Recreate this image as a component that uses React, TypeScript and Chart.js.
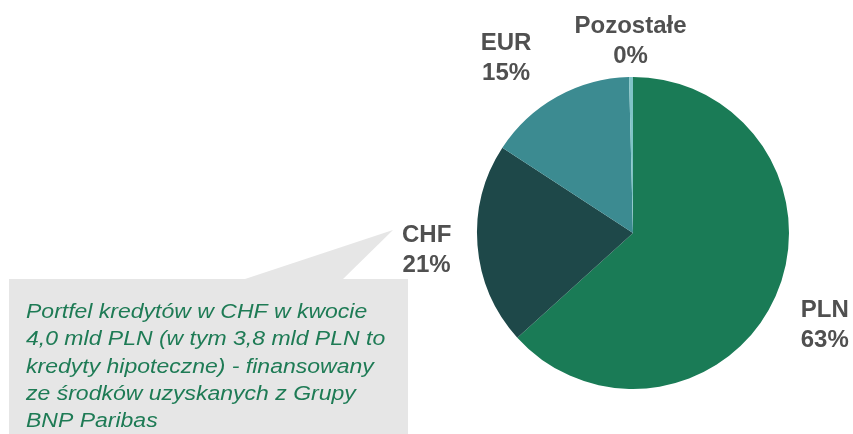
import React, { useEffect, useRef } from "react";
import { Chart, registerables } from "chart.js";

Chart.register(...registerables);

const categories = ["PLN", "CHF", "EUR", "Pozostałe"];
const shares = [63.3, 20.9, 15.4, 0.4];
const sliceColors = ["#1a7b56", "#1e4849", "#3c8b91", "#80c4c7"];
const labelDistance = [212, 207, 205, 194];
const labelNudgeX = [-2, 0, -27, 0];
const labelNudgeY = [6, 1, 4, 2];
const calloutLines = [
  "Portfel kredytów w CHF w kwocie",
  "4,0 mld PLN (w tym 3,8 mld PLN to",
  "kredyty hipoteczne) - finansowany",
  "ze środków uzyskanych z Grupy",
  "BNP Paribas",
];

const calloutPlugin = {
  id: "callout",
  beforeDraw(chart: any) {
    const ctx = chart.ctx;
    ctx.save();
    ctx.fillStyle = "#e6e6e6";
    ctx.fillRect(9, 279, 399, 170);
    ctx.beginPath();
    ctx.moveTo(242, 280);
    ctx.lineTo(393, 230);
    ctx.lineTo(342, 280);
    ctx.closePath();
    ctx.fill();
    ctx.fillStyle = "#1e7b55";
    ctx.font = "italic 20px 'Liberation Sans', Arial, sans-serif";
    ctx.textAlign = "left";
    ctx.textBaseline = "alphabetic";
    calloutLines.forEach((line, i) => {
      ctx.save();
      ctx.translate(26, 318 + i * 27.3);
      ctx.scale(1.15, 1);
      ctx.fillText(line, 0, 0);
      ctx.restore();
    });
    ctx.restore();
  },
};

const labelPlugin = {
  id: "sliceLabels",
  afterDraw(chart: any) {
    const ctx = chart.ctx;
    const meta = chart.getDatasetMeta(0);
    ctx.save();
    ctx.fillStyle = "#505050";
    ctx.font = "bold 24px 'Liberation Sans', Arial, sans-serif";
    ctx.textAlign = "center";
    ctx.textBaseline = "middle";
    meta.data.forEach((arc: any, i: number) => {
      const p = arc.getProps(["x", "y", "startAngle", "endAngle"], true);
      const mid = (p.startAngle + p.endAngle) / 2;
      const d = labelDistance[i];
      const x = p.x + Math.cos(mid) * d + labelNudgeX[i];
      const y = p.y + Math.sin(mid) * d + labelNudgeY[i];
      ctx.fillText(categories[i], x, y - 15);
      ctx.fillText(Math.round(shares[i]) + "%", x, y + 15);
    });
    ctx.restore();
  },
};

export default function App() {
  const ref = useRef<HTMLCanvasElement>(null);
  useEffect(() => {
    if (!ref.current) return;
    const chart = new Chart(ref.current, {
      type: "pie",
      data: {
        labels: categories,
        datasets: [
          {
            data: shares,
            backgroundColor: sliceColors,
            borderWidth: 0,
          },
        ],
      },
      options: {
        responsive: false,
        animation: false,
        devicePixelRatio: 1,
        rotation: 0,
        layout: { padding: { left: 477, right: 64, top: 77, bottom: 45 } },
        plugins: {
          legend: { display: false },
          tooltip: { enabled: false },
        },
      },
      plugins: [calloutPlugin, labelPlugin],
    });
    return () => chart.destroy();
  }, []);
  return (
    <div style={{ position: "absolute", left: 0, top: 0, width: 853, height: 434, background: "#fff" }}>
      <canvas ref={ref} width={853} height={434} />
    </div>
  );
}
